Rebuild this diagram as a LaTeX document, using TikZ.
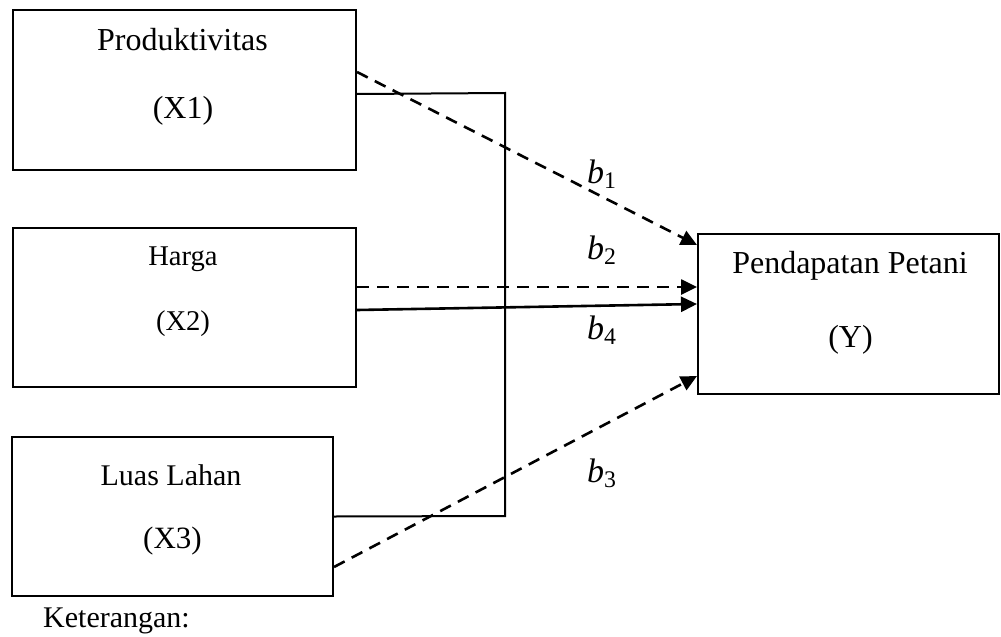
\documentclass[tikz,border=0pt]{standalone}
\usepackage{fontspec}
\setmainfont{Liberation Serif}
\usetikzlibrary{arrows.meta}
\newcommand{\coefb}[1]{\textit{b}\textsubscript{#1}}

\begin{document}
\begin{tikzpicture}[x=0.5pt,y=-0.5pt,
    box/.style={draw, line width=1pt, inner sep=0pt},
    lbl/.style={anchor=base, inner sep=0pt},
    arr/.style={line width=1.3pt, -{Triangle[length=8pt,width=7.5pt]}},
    dashline/.style={arr, dash pattern=on 6pt off 4pt},
    coef/.style={inner sep=0pt, font=\fontsize{17}{19}\selectfont}]
        \useasboundingbox (0,0) rectangle (1001,637);
        %boxes
        \node[box, minimum width=171.5pt, minimum height=80pt] (x1) at (184.5,90) {};
        \node[box, minimum width=171.5pt, minimum height=79.5pt] (x2) at (184.5,307.5) {};
        \node[box, minimum width=160.5pt, minimum height=79.5pt] (x3) at (172.5,516.5) {};
        \node[box, minimum width=150.5pt, minimum height=80pt] (y) at (848.5,314) {};
        %texts
        \node[lbl, font=\fontsize{16}{18}\selectfont] (x1a) at (182.5,50) {Produktivitas};
        \node[lbl, font=\fontsize{16}{18}\selectfont] (x1b) at (183,118) {(X1)};
        \node[lbl, font=\fontsize{14.3}{16}\selectfont] (x2a) at (183,265) {Harga};
        \node[lbl, font=\fontsize{14.3}{16}\selectfont] (x2b) at (183,330) {(X2)};
        \node[lbl, font=\fontsize{15}{17}\selectfont] (x3a) at (171,485) {Luas Lahan};
        \node[lbl, font=\fontsize{15.5}{17}\selectfont] (x3b) at (172.5,548) {(X3)};
        \node[lbl, font=\fontsize{16}{18}\selectfont] (ya) at (850,273) {Pendapatan Petani};
        \node[lbl, font=\fontsize{16}{18}\selectfont] (yb) at (850.5,347) {(Y)};
        \node[lbl, font=\fontsize{15}{17}\selectfont] (ket) at (116.5,627) {Keterangan:};
        %joint line
        \coordinate (j1) at (505,93);
        \coordinate (j3) at (505,516);
        \draw[line width=1pt] ([yshift=-2pt]x1.east) -- (j1) -- (j3) -- (x3.east);
        %paths
        \draw[dashline] ([yshift=9pt]x1.east) -- ([yshift=34.5pt]y.west);
        \draw[dashline] ([yshift=10.25pt]x2.east) -- ([yshift=13.5pt]y.west);
        \draw[arr] ([yshift=-1.25pt]x2.east) -- ([yshift=5pt]y.west);
        \draw[dashline] ([yshift=-25.25pt]x3.east) -- ([yshift=-31pt]y.west);
        %coefficients
        \node[coef] (b1) at (602,174) {\coefb{1}};
        \node[coef] (b2) at (602,250) {\coefb{2}};
        \node[coef] (b4) at (602,330) {\coefb{4}};
        \node[coef] (b3) at (602,473) {\coefb{3}};
    \end{tikzpicture}
\end{document}
